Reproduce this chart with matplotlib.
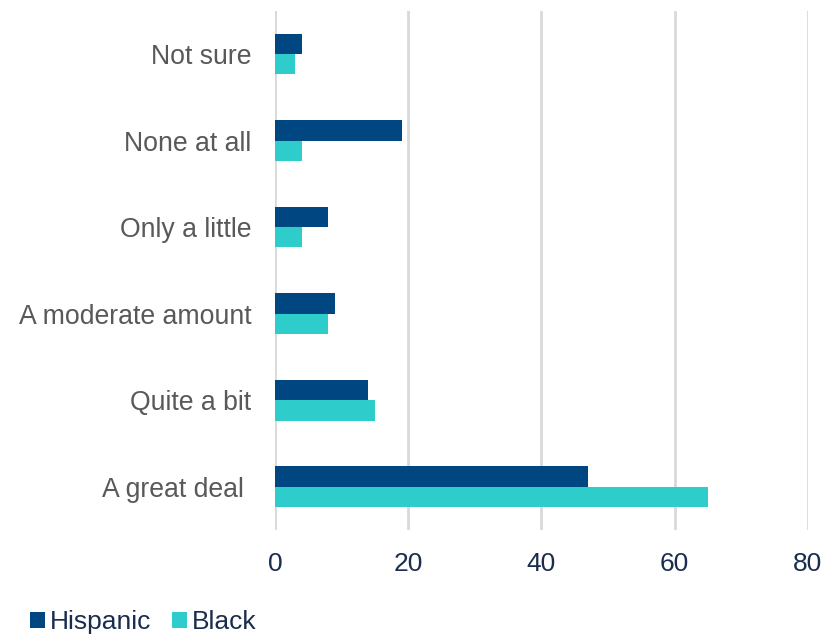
import matplotlib
matplotlib.use('Agg')
import matplotlib.pyplot as plt
import numpy as np

categories = ['A great deal ', 'Quite a bit', 'A moderate amount', 'Only a little', 'None at all', 'Not sure']
hispanic = [47, 14, 9, 8, 19, 4]
black = [65, 15, 8, 4, 4, 3]

plt.rcParams['font.family'] = ['Liberation Sans', 'DejaVu Sans']

navy = '#004680'
cyan = '#2ECDCC'
label_gray = '#595959'
tick_navy = '#1B2D4F'

fig = plt.figure(figsize=(8.27, 6.34), dpi=100)
ax = fig.add_axes([0.3325, 0.164, 0.6445, 0.819])

y = np.arange(len(categories))
h = 0.235
ax.barh(y + h / 2, hispanic, height=h, color=navy, label='Hispanic', zorder=3)
ax.barh(y - h / 2, black, height=h, color=cyan, label='Black', zorder=3)

ax.set_xlim(0, 80)
ax.set_ylim(-0.5, len(categories) - 0.5)
ax.set_xticks([0, 20, 40, 60, 80])
ax.set_yticks(y)
ax.set_yticklabels(categories, fontsize=19.2, color=label_gray)
ax.tick_params(axis='y', length=0, pad=17)
ax.tick_params(axis='x', length=0, pad=16, labelsize=19, labelcolor=tick_navy)
ax.grid(axis='x', color='#D9D9D9', linewidth=2, zorder=0)
for s in ax.spines.values():
    s.set_visible(False)

leg = fig.legend(loc='lower left', bbox_to_anchor=(0.008, -0.038), ncol=2, frameon=False,
                 fontsize=19, handlelength=0.55, handleheight=0.55, handletextpad=0.2,
                 columnspacing=0.78)
for t in leg.get_texts():
    t.set_color(tick_navy)

fig.savefig('out.png', dpi=100)
